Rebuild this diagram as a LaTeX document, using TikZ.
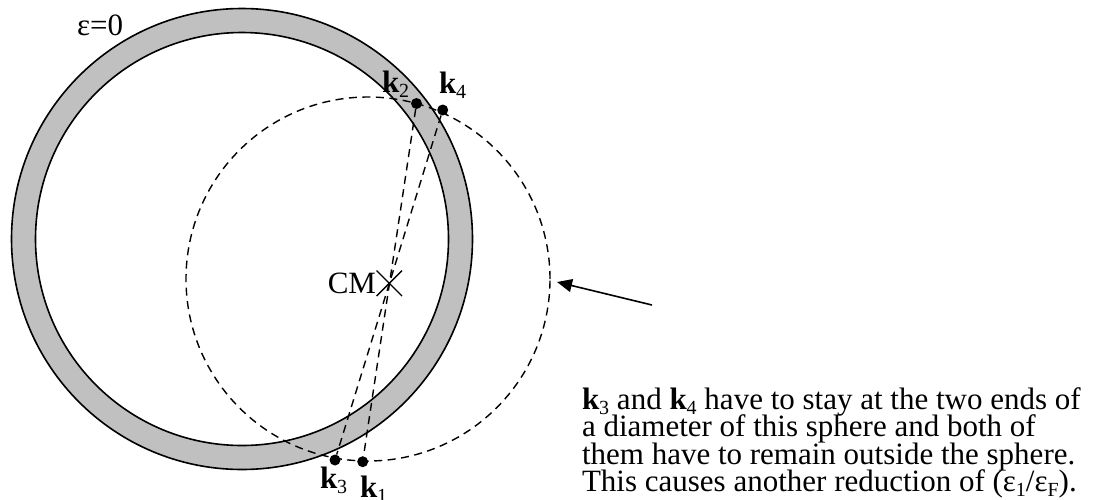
\documentclass[tikz,border=0pt]{standalone}
\usepackage{fontspec}
\setmainfont{Liberation Serif}
\usetikzlibrary{arrows.meta,shapes.misc}
\definecolor{ringgray}{RGB}{192,192,192}
\newcommand{\lsub}[1]{\raisebox{-0.17em}{\fontsize{20}{20}\selectfont #1}}
\begin{document}
\begin{tikzpicture}[x=1pt,y=-1pt,
  txt/.style={font=\fontsize{31}{31}\selectfont, inner sep=0pt, outer sep=0pt},
  kdot/.style={circle, fill=black, inner sep=0pt, minimum size=11pt},
  dashline/.style={dash pattern=on 8pt off 5.5pt, line width=1.4pt},
  ringline/.style={line width=1.6pt},
  cmcross/.style={cross out, draw, line width=1.4pt, minimum size=24pt, inner sep=0pt}]
\useasboundingbox (0,0) rectangle (1106,499);
% ring
\fill[ringgray, even odd rule] (242,239) circle[radius=230.5pt] (242,239) circle[radius=206.5pt];
\draw[ringline] (242,239) circle[radius=230.5pt];
\draw[ringline] (242,239) circle[radius=206.5pt];
% dashed sphere
\draw[dashline] (368,279) circle[radius=182pt];
% points
\node[kdot] (k2) at (416.5,103.5) {};
\node[kdot] (k4) at (442.7,110) {};
\node[kdot] (k3) at (335,460) {};
\node[kdot] (k1) at (362.7,461.7) {};
\node[cmcross] (cm) at (389.3,283.3) {};
\draw[dashline] (k2) -- (k1);
\draw[dashline] (k4) -- (k3);
% labels
\node[txt, anchor=base west] (eps) at (77,35) {ε=0};
\node[txt, anchor=base east] (cmlabel) at (376,293) {CM};
\node[txt, anchor=base west] (lk2) at (382,92) {\textbf{k}\lsub{2}};
\node[txt, anchor=base west] (lk4) at (439,93) {\textbf{k}\lsub{4}};
\node[txt, anchor=base west] (lk3) at (320,488) {\textbf{k}\lsub{3}};
\node[txt, anchor=base west] (lk1) at (360,497) {\textbf{k}\lsub{1}};
% arrow
\coordinate (tail) at (652,305);
\coordinate (tip) at (557,282);
\draw[line width=1.6pt, -{Triangle[length=15pt,width=13pt]}] (tail) -- (tip);
% text
\node[txt, anchor=base west] (t1) at (582,409) {\textbf{k}\lsub{3} and \textbf{k}\lsub{4} have to stay at the two ends of};
\node[txt, anchor=base west] (t2) at (582,436.5) {a diameter of this sphere and both of};
\node[txt, anchor=base west] (t3) at (582,464) {them have to remain outside the sphere.};
\node[txt, anchor=base west] (t4) at (582,491.5) {This causes another reduction of (ε\lsub{1}/ε\lsub{F}).};
\end{tikzpicture}
\end{document}
